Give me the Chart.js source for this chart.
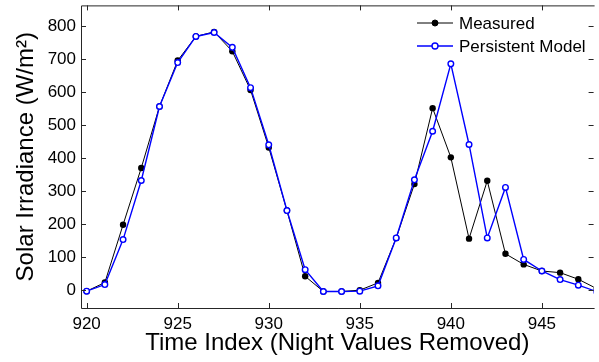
<!DOCTYPE html>
<html>
<head>
<meta charset="utf-8">
<script src="https://cdn.jsdelivr.net/npm/chart.js@4"></script>
<style>
  html, body { margin: 0; padding: 0; background: #fff; }
  canvas { display: block; }
</style>
</head>
<body>
<canvas id="irrChart" width="599" height="362"></canvas>
<script>
// values
const timeIndex = [920, 921, 922, 923, 924, 925, 926, 927, 928, 929, 930, 931, 932, 933, 934,
  935, 936, 937, 938, 939, 940, 941, 942, 943, 944, 945, 946, 947, 948];
const measured = [-3, 23, 198, 370, 556, 695, 768, 782, 723, 606, 432, 241, 42, -4, -4,
  0, 22, 158, 321, 551, 402, 156, 331, 110, 78, 58, 53, 33, 5];
const persistent = [-3, 17, 153, 332, 556, 689, 768, 780, 735, 613, 440, 241, 62, -4, -4,
  -3, 13, 158, 334, 481, 685, 441, 158, 311, 93, 58, 32, 15, -4];
const xTicks = [920, 925, 930, 935, 940, 945];
const yTicks = [0, 100, 200, 300, 400, 500, 600, 700, 800];
const seriesNames = ["Measured", "Persistent Model"];

const FONT = "'Liberation Sans', Arial, Helvetica, sans-serif";
const AXIS_COLOR = "#262626";

const toPoints = (vals) => timeIndex.map((t, i) => ({ x: t, y: vals[i] }));

// MATLAB style box: inward ticks on all sides
const framePlugin = {
  id: "frame",
  afterDatasetsDraw(chart) {
    const { ctx, chartArea: a, scales } = chart;
    ctx.save();
    ctx.strokeStyle = AXIS_COLOR;
    ctx.lineWidth = 1;
    ctx.beginPath();
    ctx.moveTo(a.right + 1, a.top + 0.5);
    ctx.lineTo(a.left + 0.5, a.top + 0.5);
    ctx.lineTo(a.left + 0.5, a.bottom + 0.5);
    ctx.lineTo(a.right + 1, a.bottom + 0.5);
    xTicks.forEach((v) => {
      const px = Math.round(scales.x.getPixelForValue(v)) + 0.5;
      ctx.moveTo(px, a.bottom);
      ctx.lineTo(px, a.bottom - 5);
      ctx.moveTo(px, a.top);
      ctx.lineTo(px, a.top + 5);
    });
    yTicks.forEach((v) => {
      const py = Math.round(scales.y.getPixelForValue(v)) + 0.5;
      ctx.moveTo(a.left, py);
      ctx.lineTo(a.left + 5, py);
      ctx.moveTo(a.right, py);
      ctx.lineTo(a.right - 5, py);
    });
    ctx.stroke();
    ctx.restore();
  }
};

// legend drawn like the MATLAB one: line + marker + label, no box
const legendPlugin = {
  id: "matlabLegend",
  afterDraw(chart) {
    const ctx = chart.ctx;
    const rows = [
      { name: seriesNames[0], color: "#000", fill: "#000", lw: 1, y: 23 },
      { name: seriesNames[1], color: "#0000ff", fill: "#fff", lw: 1.4, y: 46 }
    ];
    ctx.save();
    rows.forEach((r) => {
      ctx.strokeStyle = r.color;
      ctx.lineWidth = r.lw;
      ctx.beginPath();
      ctx.moveTo(417, r.y);
      ctx.lineTo(453, r.y);
      ctx.stroke();
      ctx.beginPath();
      ctx.arc(435, r.y, 3, 0, Math.PI * 2);
      ctx.fillStyle = r.fill;
      ctx.fill();
      ctx.stroke();
      ctx.fillStyle = "#000";
      ctx.font = "17px " + FONT;
      ctx.textBaseline = "middle";
      ctx.textAlign = "left";
      ctx.fillText(r.name, 459, r.y + 1);
    });
    ctx.restore();
  }
};

new Chart(document.getElementById("irrChart").getContext("2d"), {
  type: "line",
  data: {
    datasets: [
      {
        label: seriesNames[0],
        data: toPoints(measured),
        borderColor: "#000",
        backgroundColor: "#000",
        borderWidth: 1,
        pointRadius: 3.2,
        pointBorderWidth: 0,
        pointBackgroundColor: "#000",
        tension: 0,
        order: 1
      },
      {
        label: seriesNames[1],
        data: toPoints(persistent),
        borderColor: "#0000ff",
        backgroundColor: "#fff",
        borderWidth: 1.4,
        pointRadius: 2.8,
        pointBorderWidth: 1.4,
        pointBackgroundColor: "#fff",
        pointBorderColor: "#0000ff",
        tension: 0,
        order: 0
      }
    ]
  },
  options: {
    responsive: false,
    animation: false,
    events: [],
    layout: { padding: { top: 2, right: 0, bottom: 0, left: 0 } },
    plugins: { legend: { display: false }, tooltip: { enabled: false } },
    scales: {
      x: {
        type: "linear",
        min: 919.69,
        max: 947.84,
        grid: { display: false, drawTicks: false },
        border: { display: false },
        afterBuildTicks: (s) => { s.ticks = xTicks.map((v) => ({ value: v })); },
        afterFit: (s) => { s.height = 54; s.paddingLeft = 0; s.paddingRight = 0; },
        ticks: {
          color: "#000",
          padding: 6,
          maxRotation: 0,
          font: { family: FONT, size: 17 },
          callback: (v) => String(v)
        },
        title: {
          display: true,
          text: "Time Index (Night Values Removed)",
          color: "#000",
          font: { family: FONT, size: 24, lineHeight: 1 },
          padding: { top: 0, bottom: 7 }
        }
      },
      y: {
        min: -54,
        max: 862,
        grid: { display: false, drawTicks: false },
        border: { display: false },
        afterBuildTicks: (s) => { s.ticks = yTicks.map((v) => ({ value: v })); },
        afterFit: (s) => { s.width = 81; s.paddingTop = 0; s.paddingBottom = 0; },
        ticks: {
          color: "#000",
          padding: 5,
          font: { family: FONT, size: 17 },
          callback: (v) => String(v)
        },
        title: {
          display: true,
          text: "Solar Irradiance (W/m²)",
          color: "#000",
          font: { family: FONT, size: 24, lineHeight: 1 },
          padding: { top: 14, bottom: 0 }
        }
      }
    }
  },
  plugins: [framePlugin, legendPlugin]
});
</script>
</body>
</html>
